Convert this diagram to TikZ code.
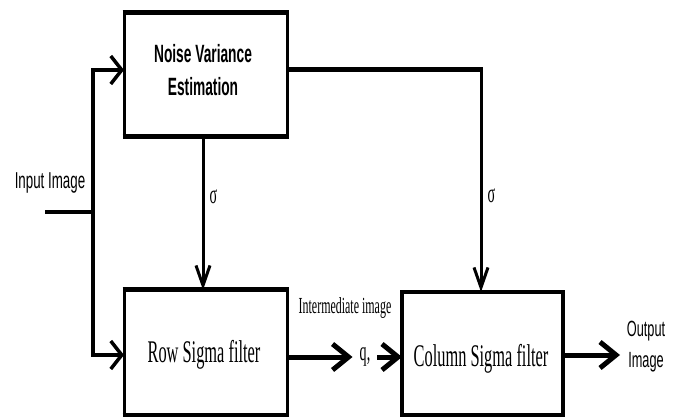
\documentclass[tikz,border=0pt]{standalone}
\usepackage{fontspec}
\usepackage{graphicx}
\setmainfont{Liberation Serif}
\newfontfamily\sansf{Liberation Sans}
\usetikzlibrary{arrows.meta}
\newcommand{\cnd}[1]{\scalebox{0.58}[1]{#1}}
\newcommand{\cnb}[1]{\scalebox{0.55}[1]{#1}}
\newcommand{\cns}[1]{\scalebox{0.52}[1]{#1}}
\begin{document}
\begin{tikzpicture}[x=1pt,y=-1pt,
  box/.style={draw,line width=3pt,outer sep=0pt,inner sep=0pt},
  thickedge/.style={line width=5pt,shorten <=-1.5pt,shorten >=-1.5pt},
  ln/.style={line width=3.5pt},
  hbarbA/.style={-{Straight Barb[length=11pt,width=28pt,line width=3.5pt]}},
  hbarbB/.style={-{Straight Barb[length=16pt,width=26pt,line width=5pt]}},
  vbarb/.style={-{Straight Barb[length=20pt,width=14pt,line width=3pt]}},
  txt/.style={inner sep=0pt,align=center},
  sanslab/.style={txt,font=\sansf\bfseries\fontsize{25}{33}\selectfont},
  seriflab/.style={txt,font=\fontsize{31.5}{35}\selectfont},
  siglab/.style={txt,font=\fontsize{27}{27}\selectfont}]
\useasboundingbox (0,0) rectangle (681,417);
\fill[white] (0,0) rectangle (681,417);
% boxes
\node[box,minimum width=163pt,minimum height=124pt] (nve) at (205.5,75) {};
\node[box,minimum width=163pt,minimum height=125pt] (row) at (205.5,352.5) {};
\node[box,line width=3.5pt,minimum width=161pt,minimum height=123pt] (col) at (482.5,353.5) {};
\draw[thickedge] (nve.north west) -- (nve.north east);
\draw[thickedge] (nve.south west) -- (nve.south east);
\draw[thickedge] (row.north west) -- (row.north east);
\draw[thickedge] (row.south west) -- (row.south east);
% box texts
\node[sanslab] (nvet) at (203,70) {\cnb{Noise Variance}\\\cnb{Estimation}};
\node[seriflab] (rowt) at (204,355) {\cns{Row Sigma filter}};
\node[seriflab] (colt) at (481,359) {\cns{Column Sigma filter}};
% labels
\node[txt,font=\sansf\fontsize{23}{23}\selectfont] (inl) at (50,183) {\cnd{Input Image}};
\node[txt,font=\fontsize{23}{23}\selectfont] (iml) at (345,308) {\cns{Intermediate image}};
\node[txt,font=\fontsize{27}{27}\selectfont,inner xsep=7pt] (q) at (365,357) {\cns{q,}};
\node[txt,font=\sansf\fontsize{22}{31}\selectfont] (outl) at (646,346.5)
  {\cnd{Output}\\\cnd{Image}};
% connectors
\coordinate (in) at (45,212);
\coordinate (jn) at (93,212);
\coordinate (outtip) at (620,355);
\coordinate (c2) at ([xshift=-1.5pt]col.north |- 0,70);
\draw[ln] (in) -- (jn);
\draw[ln,hbarbA] (jn) |- ([yshift=5pt]nve.west);
\draw[ln,hbarbA] (jn) |- ([yshift=-2.5pt]row.west);
\draw[line width=3pt,vbarb] ([xshift=-2.5pt]nve.south) -- node[pos=0.39,right=5pt,siglab] (s1) {\cns{σ}} ([xshift=-2.5pt]row.north);
\draw[line width=5pt] ([yshift=5pt]nve.east) -- ([xshift=1.5pt]c2);
\draw[line width=3pt,vbarb] ([yshift=1pt]c2) -- node[pos=0.57,right=5pt,siglab] (s2) {\cns{σ}} ([xshift=-1.5pt]col.north);
\draw[line width=5pt,hbarbB] (row.east |- q.west) -- (q.west);
\draw[line width=5pt,hbarbB] (q.east) -- (col.west |- q.east);
\draw[line width=5pt,hbarbB] (col.east |- outtip) -- (outtip);
\end{tikzpicture}
\end{document}
